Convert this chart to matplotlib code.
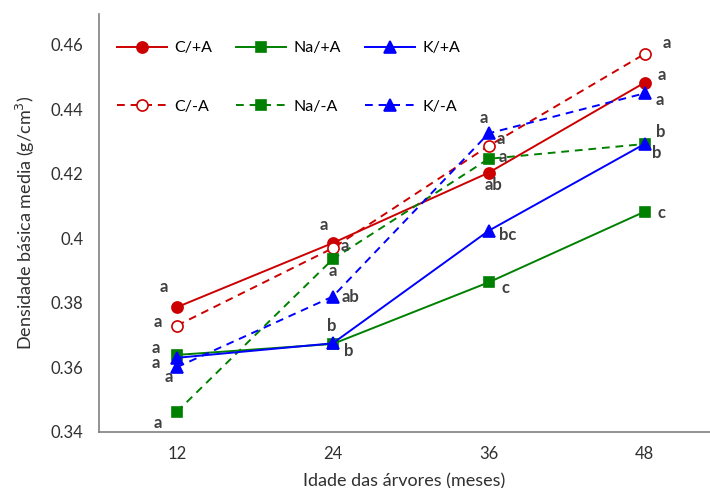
import matplotlib
matplotlib.use("Agg")
import matplotlib.pyplot as plt

plt.rcParams['font.family'] = ['Lato', 'DejaVu Sans']

ages = ["12", "24", "36", "48"]
series_names = ["C/+A", "C/-A", "Na/+A", "Na/-A", "K/+A", "K/-A"]

c_pos = [0.3787, 0.3986, 0.4204, 0.4483]
c_neg = [0.3730, 0.3970, 0.4287, 0.4572]
na_pos = [0.3639, 0.3673, 0.3864, 0.4083]
na_neg = [0.3463, 0.3936, 0.4247, 0.4293]
k_pos = [0.3630, 0.3675, 0.4024, 0.4293]
k_neg = [0.3601, 0.3820, 0.4326, 0.4450]

c_pos_let = ["a", "a", "ab", "a"]
c_neg_let = ["a", "a", "a", "a"]
na_pos_let = ["a", "b", "c", "c"]
na_neg_let = ["a", "a", "a", "b"]
k_pos_let = ["a", "b", "bc", "b"]
k_neg_let = ["a", "ab", "a", "a"]

values = [c_pos, c_neg, na_pos, na_neg, k_pos, k_neg]
letters = [c_pos_let, c_neg_let, na_pos_let, na_neg_let, k_pos_let, k_neg_let]

# styles
red, green, blue = '#cc0000', '#008000', '#0000ff'
styles = [
    dict(color=red, ls='-', marker='o', ms=8, mfc=red),
    dict(color=red, ls=(0, (4, 3)), marker='o', ms=8, mfc='white'),
    dict(color=green, ls='-', marker='s', ms=7.5, mfc=green),
    dict(color=green, ls=(0, (4, 3)), marker='s', ms=7.5, mfc=green),
    dict(color=blue, ls='-', marker='^', ms=8, mfc=blue),
    dict(color=blue, ls=(0, (4, 3)), marker='^', ms=8, mfc=blue),
]

# label offsets in pixels (dx right, dy up)
offsets = [
    [(-13, 20), (-9, 18), (5, -12), (17, 8)],
    [(-19, 4), (12, 2), (12, 7), (22, 11)],
    [(-21, 7), (16, -7), (17, -6), (17, -1)],
    [(-19, -11), (0, -12), (14, 2), (12, -9)],
    [(-21, -5), (-1, 17), (19, -4), (16, 12)],
    [(-8, -10), (18, 0), (-5, 15), (15, -7)],
]

fig = plt.figure(figsize=(7.1, 4.88), dpi=100)
ax = fig.add_axes([99/710, 56/488, 1 - 99/710, (432-14)/488])

x = list(range(len(ages)))
lines = []
for name, v, st in zip(series_names, values, styles):
    ln, = ax.plot(x, v, lw=1.4, mec=st['color'], mew=1.2, label=name,
                  color=st['color'], ls=st['ls'], marker=st['marker'],
                  ms=st['ms'], mfc=st['mfc'])
    lines.append(ln)

for v, lets, offs in zip(values, letters, offsets):
    for i in range(len(v)):
        ax.annotate(lets[i], xy=(i, v[i]), xytext=(offs[i][0]*0.72, offs[i][1]*0.72),
                    textcoords='offset points', ha='center', va='center',
                    fontsize=12, fontweight='bold', color='#404040')

ax.set_xlim(-0.5, 3.42)
ax.set_ylim(0.34, 0.4696)
ax.set_xticks(x)
ax.set_xticklabels(ages)
ax.set_yticks([0.34, 0.36, 0.38, 0.40, 0.42, 0.44, 0.46])
ax.set_yticklabels(["0.34", "0.36", "0.38", "0.4", "0.42", "0.44", "0.46"])
ax.tick_params(length=0, labelsize=12, colors='#303030')
ax.tick_params(axis='y', pad=11)
ax.tick_params(axis='x', pad=10)
for s in ['top', 'right']:
    ax.spines[s].set_visible(False)
for s in ['left', 'bottom']:
    ax.spines[s].set_color('#808080')
    ax.spines[s].set_linewidth(1.2)

ax.set_ylabel("Densidade básica media (g/cm$^3$)", fontsize=13, color='#303030', labelpad=10)
ax.set_xlabel("Idade das árvores (meses)", fontsize=13, color='#303030', labelpad=8)

ax.legend(handles=lines, ncol=3, loc='upper left', bbox_to_anchor=(0.006, 0.97),
          frameon=False, fontsize=11.5, handlelength=3.1, handletextpad=0.5,
          columnspacing=1.5, labelspacing=2.8, borderpad=0.4)

fig.savefig("out.png", dpi=100)
